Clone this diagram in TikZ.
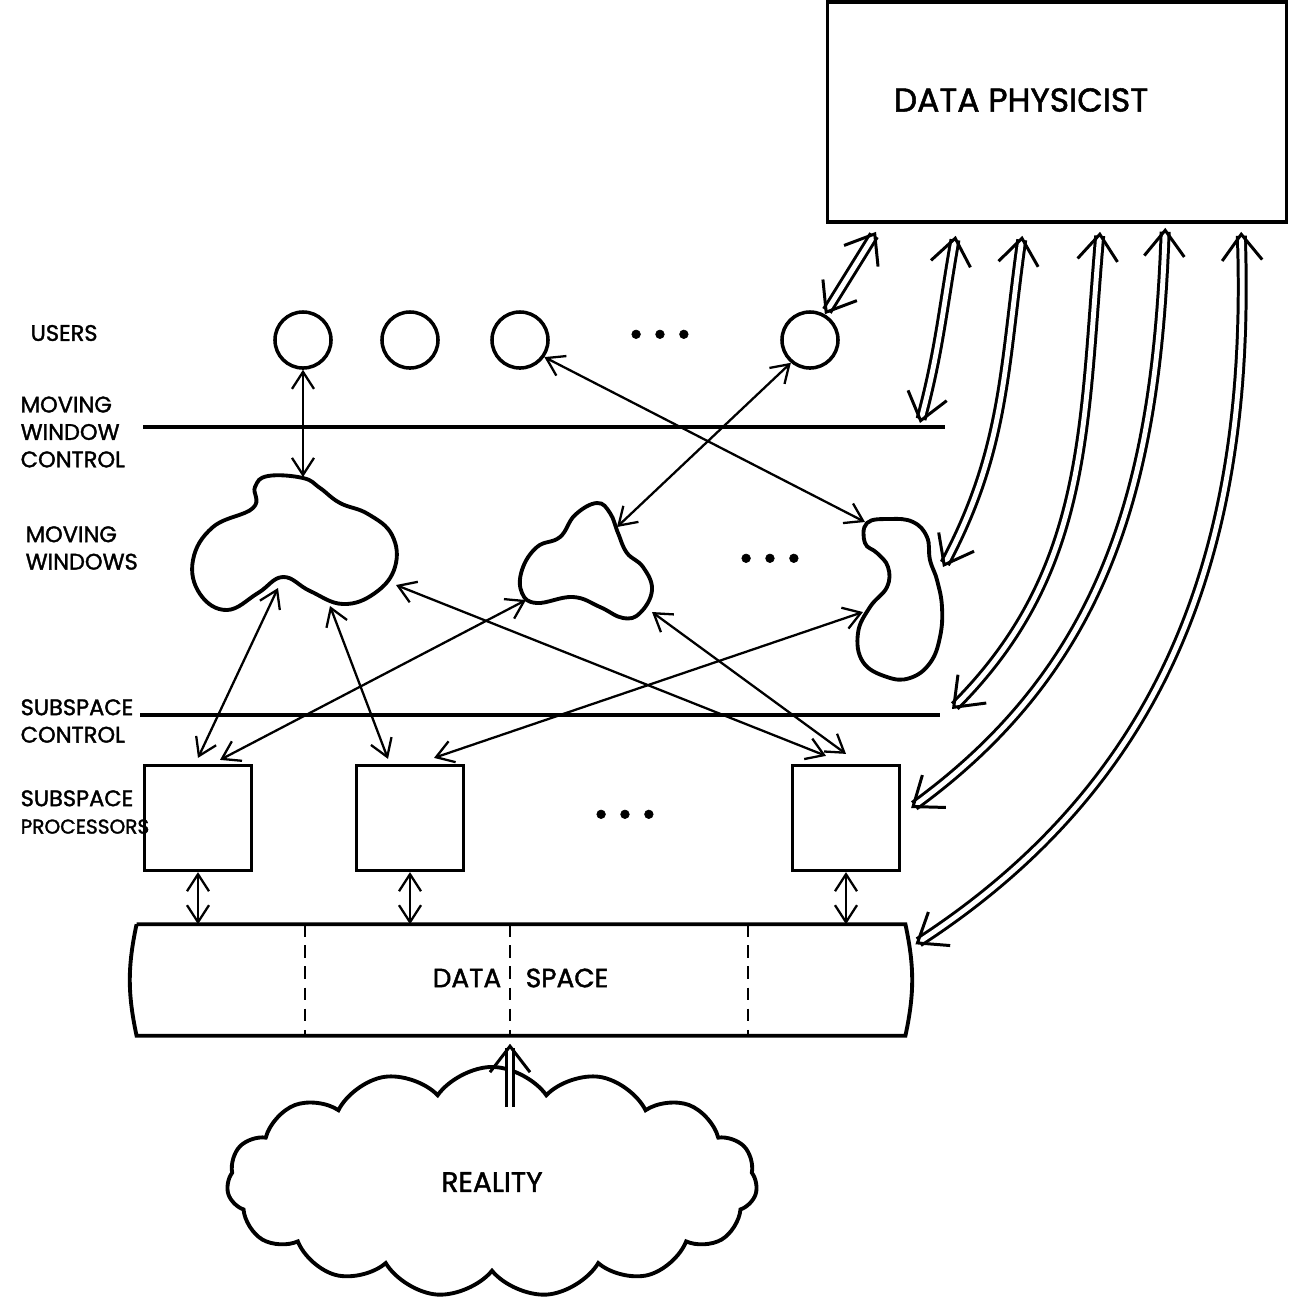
\documentclass[tikz,border=0pt]{standalone}
\usepackage{fontspec}
\setmainfont{Poppins}[AutoFakeBold=1.6]
\usetikzlibrary{arrows.meta,positioning,calc,shapes.symbols}
\tikzset{
panel/.style={draw,line width=1pt,minimum width=4.59cm,minimum height=2.2cm},
user/.style={draw,circle,line width=1pt,minimum size=5.6mm,inner sep=0pt},
proc/.style={draw,line width=.9pt,minimum width=1.07cm,minimum height=1.05cm,inner sep=0pt},
blob/.style={line width=1.1pt},
ctrl/.style={line width=1pt},
lbl/.style={font=\bfseries\fontsize{6.4}{7.8}\selectfont,align=left,anchor=west,inner sep=0pt},
dots/.style={font=\bfseries\fontsize{10}{10}\selectfont},
link/.style={{Straight Barb[length=1.7mm,width=2.2mm]}-{Straight Barb[length=1.7mm,width=2.2mm]},line width=.65pt},
feed/.style={{Straight Barb[length=2.6mm,width=4mm]}-{Straight Barb[length=2.6mm,width=4mm]},double,double distance=1.4pt,line width=.85pt},
lift/.style={-{Straight Barb[length=2.6mm,width=4mm]},double,double distance=1.4pt,line width=.85pt}
}
\begin{document}
\begin{tikzpicture}[x=.01cm,y=-.01cm]
\useasboundingbox (0,0) rectangle (1292,1305);
\node[panel](dp) at (1057,112){};
\node[font=\bfseries\fontsize{9.4}{11}\selectfont](dptext) at (1021,100){DATA PHYSICIST};
\node[lbl](lu) at (30,333){USERS};
\node[user](u1) at (303,340){};
\node[user](u2) at (410,340){};
\node[user](u3) at (520,340){};
\node[dots](ud) at (660,338){\textbullet\ \textbullet\ \textbullet};
\node[user](u4) at (810,340){};
\node[lbl](lmwc) at (20,432){MOVING\\WINDOW\\CONTROL};
\coordinate (mwcA) at (143,427); \coordinate (mwcB) at (945,427);
\draw[ctrl](mwcA)--(mwcB);
\node[lbl](lmw) at (25,548){MOVING\\WINDOWS};
\draw[blob] plot[smooth cycle,tension=.7] coordinates {(303,478) (320,488) (340,503) (368,514) (392,535) (395,567) (375,593) (343,604) (310,591) (283,577) (258,593) (227,610) (200,594) (193,560) (213,527) (253,508) (255,487) (268,476)};
\draw[blob] plot[smooth cycle,tension=.7] coordinates {(597,503) (610,513) (618,533) (627,553) (643,567) (652,590) (640,613) (623,618) (600,607) (573,597) (537,603) (522,593) (522,570) (537,547) (560,537) (575,515)};
\draw[blob] plot[smooth cycle,tension=.7] coordinates {(867,523) (890,519) (913,522) (927,537) (930,560) (937,580) (942,607) (940,637) (930,663) (910,678) (887,677) (863,662) (858,633) (870,607) (887,587) (888,567) (877,553) (865,543)};
\node[dots](wd) at (770,562){\textbullet\ \textbullet\ \textbullet};
\coordinate (w1a) at (303,477); \coordinate (w1b) at (278,588); \coordinate (w1c) at (330,606); \coordinate (w1d) at (396,585);
\coordinate (w2a) at (617,527); \coordinate (w2b) at (526,600); \coordinate (w2c) at (652,612);
\coordinate (w3a) at (865,522); \coordinate (w3b) at (863,612); \coordinate (w3c) at (943,567);
\node[lbl](lsc) at (20,721){SUBSPACE\\CONTROL};
\coordinate (scA) at (140,715); \coordinate (scB) at (940,715);
\draw[ctrl](scA)--(scB);
\node[lbl](lsp) at (20,812){SUBSPACE\\{\fontsize{5.7}{7.8}\selectfont PROCESSORS}};
\node[proc](p1) at (198,818){};
\node[proc](p2) at (410,818){};
\node[dots](pd) at (625,818){\textbullet\ \textbullet\ \textbullet};
\node[proc](p3) at (846,818){};
\node[minimum width=7.67cm,minimum height=1.1cm](ds) at (521,980){};
\draw[blob](ds.north west)--(ds.north east) to[out=-78,in=78](ds.south east)--(ds.south west) to[out=102,in=-102](ds.north west);
\foreach \x in {305,510,748}\draw[line width=.8pt,dash pattern=on 3.5pt off 2.5pt](\x,0 |- ds.north)--(\x,0 |- ds.south);
\node[font=\bfseries\fontsize{7.5}{9}\selectfont](dst1) at (467,978){DATA};
\node[font=\bfseries\fontsize{7.5}{9}\selectfont](dst2) at (567,978){SPACE};
\node[cloud,draw,line width=1.1pt,cloud puffs=15,cloud puff arc=110,aspect=2.2,minimum width=5.3cm,minimum height=2.3cm,font=\bfseries\fontsize{8}{10}\selectfont](real) at (492,1182){REALITY};
\draw[lift]($(real.north)+(18,42)$)--($(ds.south)+(-11,8)$);
\draw[link](u1.south)--(w1a);\draw[link](u3.-35)--(w3a);\draw[link](u4.-130)--(w2a);
\draw[link](w1b)--($(p1.north)+(0,-6)$);\draw[link](w1c)--($(p2.north)+(-22,-5)$);\draw[link](w1d)--($(p3.north)+(-20,-8)$);
\draw[link](w2b)--($(p1.north)+(22,-4)$);\draw[link](w2c)--($(p3.north)+(0,-10)$);\draw[link](w3b)--($(p2.north)+(24,-6)$);
\draw[link](p1.south)--(p1.south |- ds.north);\draw[link](p2.south)--(p2.south |- ds.north);\draw[link](p3.south)--(p3.south |- ds.north);
\draw[feed]($(dp.south west)!.109!(dp.south east)+(0,8)$)--(u4.60);
\draw[feed]($(dp.south west)!.281!(dp.south east)+(0,12)$) to[out=-100,in=75] (920,423);
\draw[feed]($(dp.south west)!.425!(dp.south east)+(0,12)$) to[out=-98,in=62] (w3c);
\draw[feed]($(dp.south west)!.593!(dp.south east)+(0,8)$) to[out=-95,in=45] ($(scB)+(12,-6)$);
\draw[feed]($(dp.south west)!.734!(dp.south east)+(0,4)$) to[out=-92,in=36] ($(p3.east)+(10,-10)$);
\draw[feed]($(dp.south west)!.898!(dp.south east)+(0,8)$) to[out=-88,in=33] ($(ds.north east)+(10,20)$);
\end{tikzpicture}
\end{document}
